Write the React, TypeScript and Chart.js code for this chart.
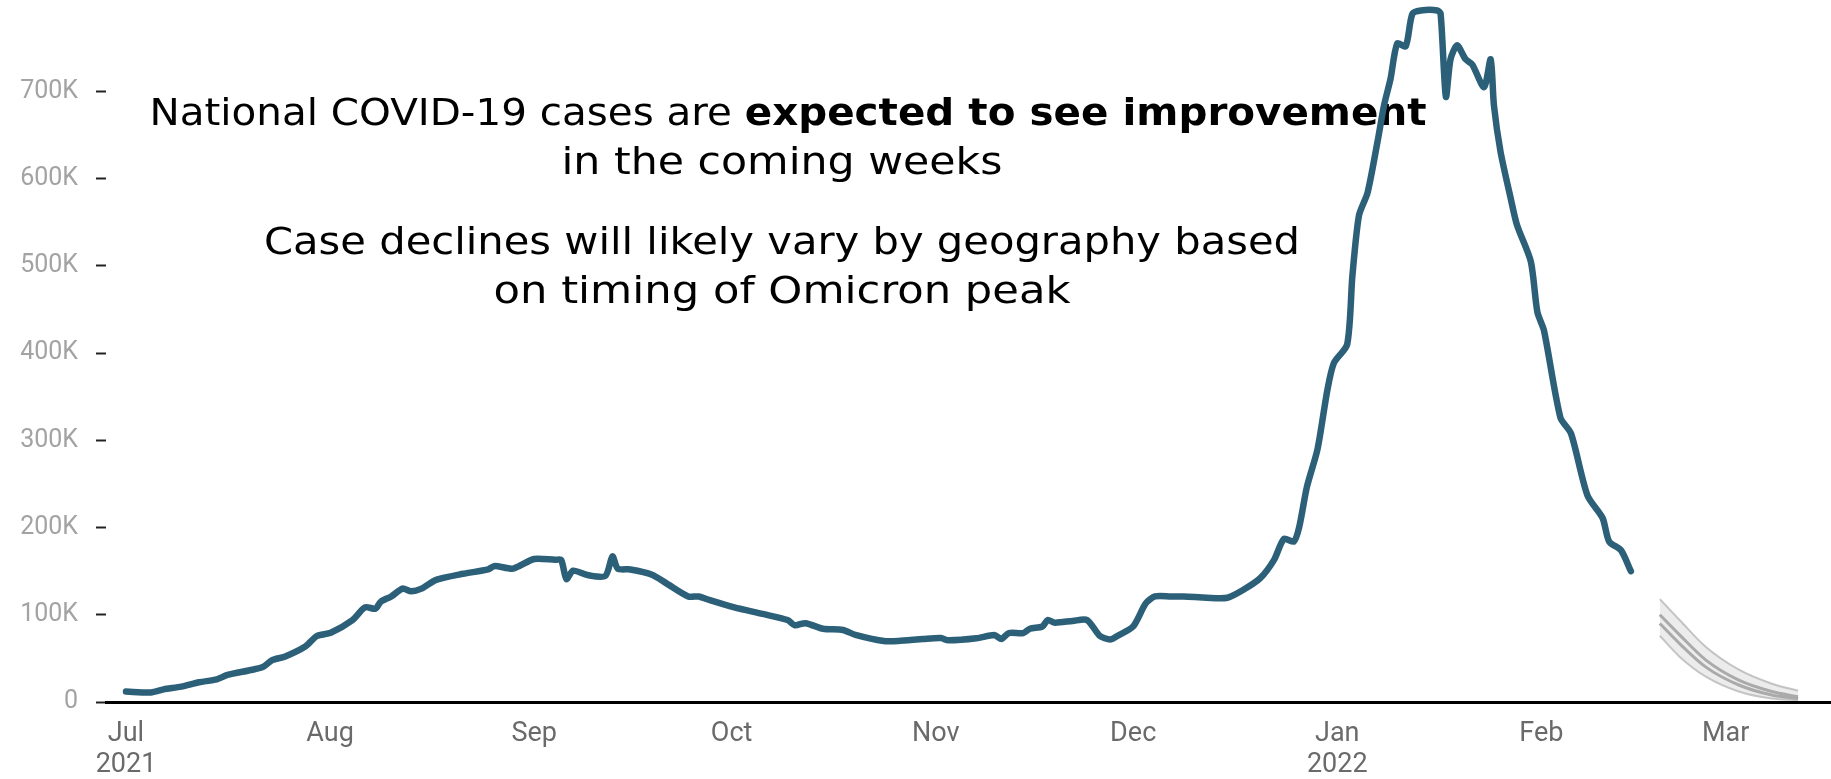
import React, { useEffect, useRef } from "react";
import { Chart, registerables } from "chart.js";

Chart.register(...registerables);

// Days counted from 1 July 2021; values in thousands of cases (7-day average)
const caseDays = [
  0, 3.8, 5.7, 8.4, 11.1, 13.8, 15.4, 19.2, 20.9, 22.2, 24.1, 27.3, 29, 31.1, 34.4, 36.3, 37.9, 38.7,
  40.3, 42, 43.3, 44.9, 47.1, 51.2, 55, 56, 58.8, 62, 65.2, 66.1, 66.9, 67.9, 70.1, 72.8, 73.9, 74.7,
  76.6, 79.9, 82.1, 85.4, 87, 88.6, 92.4, 96.7, 100.5, 101.6, 103.2, 105.9, 108.9, 110.8, 115.1,
  117.3, 121.1, 123.8, 124.9, 129.2, 131.9, 133, 134.1, 136.3, 137.3, 139.2, 140, 141.1, 143.8, 146,
  147.9, 149.5, 150.6, 153, 154.9, 156.3, 158.7, 160.7, 164.2, 167.3, 169.8, 172.3, 174.4, 175.9,
  177.4, 178.2, 179.4, 181, 182.5, 183.5, 185.5, 186.3, 187.3, 188.6, 190.1, 191.1, 192.1, 193.1,
  194.4, 195.4, 196.7, 199.2, 199.7, 200.5, 201.2, 202.2, 203.5, 204.5, 206.3, 207.3, 207.8, 208.8,
  210.3, 211.3, 213.4, 214.4, 215.4, 217.9, 219.5, 222, 224.3, 225.3, 227.1, 228.6,
];
const caseValues = [
  12, 11, 14.5, 17.6, 22.6, 26, 31, 37, 40.6, 48, 52, 64, 75.7, 79.5, 94, 108.5, 107, 115,
  121, 130, 127, 130, 140, 147, 152, 156, 153, 164, 163, 163, 141, 150.6, 145.6, 144.5, 167, 153,
  152, 146, 136, 121, 121, 117, 108.5, 101, 94, 88, 90.4, 84, 82.6, 77, 70,
  70, 72.3, 73.4, 70.7, 73, 76.8, 72.3, 79, 79, 84, 86.6, 94, 91, 93, 94,
  76, 71.6, 75.7, 86.6, 113, 121, 121, 121, 119.6, 119.6, 129, 142, 163, 187,
  184, 200, 247, 290, 358, 389, 410, 489, 558, 584, 642, 684, 715, 755,
  752, 789, 793, 793, 789, 694, 737, 753, 737, 731, 705, 737, 684, 631,
  579, 547, 505, 447, 426, 326, 308, 237, 211, 184, 174, 150,
];

// Forecast (thousands)
const forecastDays = [233, 236, 240, 245, 250, 254];
const forecastUpper = [118, 94, 63, 37, 21, 13];
const forecastMidHigh = [100, 77, 48, 25, 12, 6];
const forecastMidLow = [90, 67, 40, 19.5, 8, 4];
const forecastLower = [76, 52, 29, 12, 4, 2.3];

// Axis ticks
const monthTickDays = [0, 31, 62, 92, 123, 153, 184, 215, 243];
const monthTickLabels: (string | string[])[] = [
  ["Jul", "2021"], "Aug", "Sep", "Oct", "Nov", "Dec", ["Jan", "2022"], "Feb", "Mar",
];
const yTickValues = [0, 100000, 200000, 300000, 400000, 500000, 600000, 700000];
const yTickLabels = ["0", "100K", "200K", "300K", "400K", "500K", "600K", "700K"];

// Annotation text
const headlineRegular = "National COVID-19 cases are ";
const headlineBold = "expected to see improvement";
const headlineLine2 = "in the coming weeks";
const noteLine1 = "Case declines will likely vary by geography based";
const noteLine2 = "on timing of Omicron peak";

const toPoints = (xs: number[], ys: number[]) => xs.map((x, i) => ({ x, y: ys[i] * 1000 }));

const TEXT_FONT = '"DejaVu Sans"';
const TEXT_SIZE = 38;

const annotationPlugin = {
  id: "annotationText",
  beforeDatasetsDraw(chart: any) {
    const ctx = chart.ctx as any;
    ctx.save();
    ctx.fillStyle = "#000";
    ctx.textBaseline = "alphabetic";
    ctx.textAlign = "left";
    const reg = `400 ${TEXT_SIZE}px ${TEXT_FONT}`;
    const bold = `700 ${TEXT_SIZE}px ${TEXT_FONT}`;

    // draw a line of runs, stretched horizontally to the reference width, centred on cx
    const drawLine = (runs: [string, string][], target: number, cx: number, y: number) => {
      const widths = runs.map(([t, f]) => {
        ctx.font = f;
        return ctx.measureText(t).width;
      });
      const total = widths.reduce((a, b) => a + b, 0);
      const sx = target / total;
      ctx.save();
      ctx.translate(cx - target / 2, y);
      ctx.scale(sx, 1);
      let x = 0;
      runs.forEach(([t, f], i) => {
        ctx.font = f;
        ctx.fillText(t, x, 0);
        x += widths[i];
      });
      ctx.restore();
    };

    drawLine([[headlineRegular, reg], [headlineBold, bold]], 1277, 788, 125);
    drawLine([[headlineLine2, reg]], 441, 782, 174);
    drawLine([[noteLine1, reg]], 1036, 782, 254);
    drawLine([[noteLine2, reg]], 577, 782, 303);
    ctx.restore();
  },
};

export default function App() {
  const ref = useRef<HTMLCanvasElement>(null);

  useEffect(() => {
    document.body.style.margin = "0";
    document.body.style.overflow = "hidden";
    const canvas = ref.current;
    if (!canvas) return;
    const bandBorder = "rgba(190,190,190,0.9)";
    const chart = new Chart(canvas, {
      type: "line",
      data: {
        datasets: [
          {
            data: toPoints(forecastDays, forecastUpper),
            borderColor: bandBorder,
            borderWidth: 2,
            backgroundColor: "rgba(200,200,200,0.35)",
            fill: "+3",
            pointRadius: 0,
            cubicInterpolationMode: "monotone",
          },
          {
            data: toPoints(forecastDays, forecastMidHigh),
            borderColor: "#9a9a9a",
            borderWidth: 3,
            fill: false,
            pointRadius: 0,
            cubicInterpolationMode: "monotone",
          },
          {
            data: toPoints(forecastDays, forecastMidLow),
            borderColor: "#9a9a9a",
            borderWidth: 3,
            fill: false,
            pointRadius: 0,
            cubicInterpolationMode: "monotone",
          },
          {
            data: toPoints(forecastDays, forecastLower),
            borderColor: bandBorder,
            borderWidth: 2,
            fill: false,
            pointRadius: 0,
            cubicInterpolationMode: "monotone",
          },
          {
            data: toPoints(caseDays, caseValues),
            borderColor: "#2c6079",
            borderWidth: 6.5,
            borderCapStyle: "round",
            borderJoinStyle: "round",
            fill: false,
            pointRadius: 0,
            tension: 0.25,
            clip: false as any,
          },
        ],
      },
      options: {
        animation: false,
        responsive: false,
        devicePixelRatio: 1,
        layout: { padding: 0 },
        plugins: { legend: { display: false }, tooltip: { enabled: false } },
        scales: {
          x: {
            type: "linear",
            min: -3.04,
            max: 259,
            afterFit: (s: any) => {
              s.height = 77;
              s.paddingLeft = 0;
              s.paddingRight = 0;
            },
            afterBuildTicks: (s: any) => {
              s.ticks = monthTickDays.map((v) => ({ value: v }));
            },
            border: { display: true, color: "#000", width: 3 },
            grid: { display: false, drawTicks: false },
            ticks: {
              autoSkip: false,
              maxRotation: 0,
              padding: 16,
              color: "#6a6a6a",
              font: { family: "Roboto", size: 27, lineHeight: 1.17 },
              callback: (_v: any, i: number) => monthTickLabels[i],
            },
          },
          y: {
            type: "linear",
            min: 0,
            max: 805000,
            afterFit: (s: any) => {
              s.width = 106;
              s.paddingTop = 0;
              s.paddingBottom = 0;
            },
            afterBuildTicks: (s: any) => {
              s.ticks = yTickValues.map((v) => ({ value: v }));
            },
            border: { display: false },
            grid: {
              drawOnChartArea: false,
              drawTicks: true,
              tickLength: 10,
              tickColor: "#222",
              tickWidth: 2,
            },
            ticks: {
              padding: 18,
              color: "#a3a3a3",
              font: { family: "Roboto", size: 25 },
              callback: (_v: any, i: number) => yTickLabels[i],
            },
          },
        },
      },
      plugins: [annotationPlugin],
    } as any);
    return () => chart.destroy();
  }, []);

  return (
    <div style={{ width: 1831, height: 779, background: "#fff" }}>
      <canvas ref={ref} width={1831} height={779} />
    </div>
  );
}
